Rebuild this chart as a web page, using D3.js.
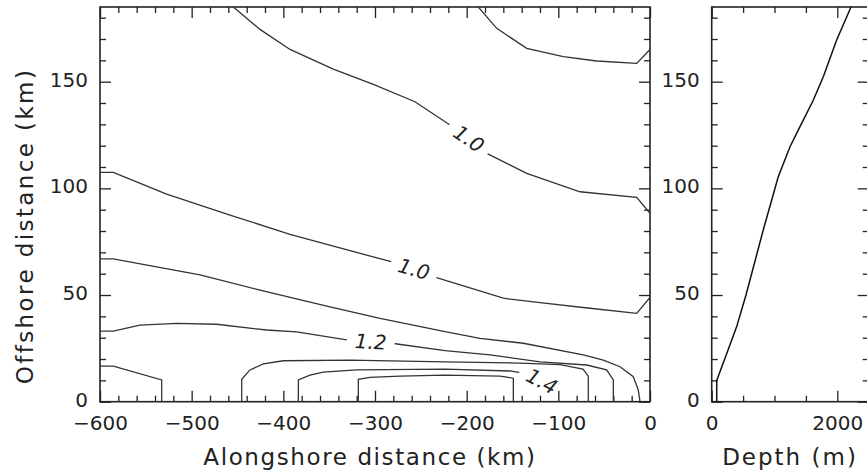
<!DOCTYPE html>
<html>
<head>
<meta charset="utf-8">
<script src="https://cdn.jsdelivr.net/npm/d3@7"></script>
<style>
  body { margin: 0; background: #fff; }
  text { font-family: "DejaVu Sans", sans-serif; fill: #222; }
</style>
</head>
<body>
<svg id="chart" width="867" height="472"></svg>
<script>
// tick labels
const alongTicks = [-600, -500, -400, -300, -200, -100, 0];
const offshoreTicks = [0, 50, 100, 150];
const depthTicks = [0, 2000];

// contour lines, [alongshore km, offshore km]
const contour10Upper = [[-454.6, 185], [-425.5, 174.5], [-392.7, 165.1], [-345.5, 155.9], [-301.8, 148.7],
  [-256.4, 140.6], [-218.2, 129.7], [-181.8, 117.2], [-134.5, 107.0], [-76.4, 98.4], [-14.5, 95.8], [0, 88.3]];
const contourTopRight = [[-187.3, 185], [-167.2, 175.0], [-134.5, 165.6], [-94.6, 161.7], [-58.1, 159.7],
  [-14.5, 158.6], [0, 165.1]];
const contour10Lower = [[-600, 107.5], [-585.5, 107.5], [-527.3, 97.3], [-458.2, 87.5], [-392.7, 78.4],
  [-309.1, 68.7], [-276.4, 64.9], [-236.4, 58.6], [-160, 48.5], [-120, 46.4], [-65.5, 43.8], [-14.5, 41.4], [0, 48.9]];
const contour11 = [[-600, 66.9], [-585.5, 66.9], [-490.9, 59.4], [-425.5, 52.3], [-349.1, 44.5], [-294.5, 39.1],
  [-223.6, 32.8], [-185.5, 29.7], [-138.2, 27.4], [-72.8, 21.9], [-50.9, 19.5], [-32.7, 16.4], [-18.2, 11.7],
  [-12.8, 5.5], [-10.9, 0]];
const contour12 = [[-600, 33.1], [-585.5, 33.1], [-556.4, 35.9], [-516.4, 36.7], [-472.7, 36.3], [-418.2, 33.6],
  [-385.5, 32.7], [-329.1, 28.9], [-281.8, 27.4], [-223.6, 23.9], [-174.5, 21.9], [-120, 18.7], [-69.1, 17.2],
  [-47.3, 14.9], [-40, 10.2], [-40, 0]];
const contour13 = [[-445.4, 0], [-445.4, 10.5], [-436.4, 14.9], [-421.9, 17.7], [-400, 19.2], [-327.3, 19.5],
  [-223.6, 18.7], [-141.8, 18.1], [-98.2, 17.4], [-73.1, 15.3], [-67.3, 12.0], [-67.3, 0]];
const contour14 = [[-383.6, 0], [-383.6, 10.2], [-370.9, 12.5], [-356.4, 13.9], [-320, 14.9], [-223.6, 15.3],
  [-152.7, 14.4], [-138.5, 13.4], [-115, 11.5], [-104, 8], [-101.5, 5.5], [-101.5, 0]];
const contour15 = [[-318.2, 0], [-318.2, 10.5], [-305.5, 11.4], [-272.7, 12.0], [-223.6, 12.5], [-163.6, 12.0],
  [-149.1, 11.0], [-149.1, 0]];
const contourLeftCorner = [[-600, 16.7], [-585.5, 16.7], [-532.7, 10.2], [-532.7, 0]];

// contour labels
const labelText = ["1.0", "1.0", "1.2", "1.4"];
const labelAlong = [-197.5, -257.5, -304.6, -118];
const labelOffshore = [123.3, 62.2, 28.1, 9.6];
const labelAngle = [34, 16, 3, 28];
const labelLine = [0, 2, 4, 6];

// bottom depth, [depth m, offshore km]
const depthProfile = [[80, 0], [80, 10], [212, 20.4], [398, 35.2], [546, 50], [822, 80.6], [1060, 105.4],
  [1247, 119.5], [1406, 128.9], [1617, 141.3], [1777, 152.3], [1990, 169.5], [2218, 185]];

const contours = [contour10Upper, contourTopRight, contour10Lower, contour11, contour12,
  contour13, contour14, contour15, contourLeftCorner];

const svg = d3.select("#chart");
const x = d3.scaleLinear().domain([-600, 0]).range([100, 650]);
const y = d3.scaleLinear().domain([0, 185]).range([401.7, 7]);
const xd = d3.scaleLinear().domain([0, 2500]).range([711.7, 868.7]);

const defs = svg.append("defs");
defs.append("clipPath").attr("id", "clip-left")
  .append("rect").attr("x", 100).attr("y", 7).attr("width", 550).attr("height", 394.7);

// axis frame with inward ticks
function drawFrame(xs, xMajor, xMinor) {
  const [x0, x1] = xs.range();
  const [y0, y1] = y.range();
  const yMinor = d3.range(0, 186, 10).filter((v) => v % 50 !== 0);
  const g = svg.append("g").attr("color", "#222");

  const axes = [
    [d3.axisBottom(xs), `translate(0,${y0})`, xMajor, xMinor, true, 14],
    [d3.axisTop(xs), `translate(0,${y1})`, xMajor, xMinor, false, 12],
    [d3.axisLeft(y), `translate(${x0},0)`, offshoreTicks, yMinor, true, 12],
    [d3.axisRight(y), `translate(${x1},0)`, offshoreTicks, yMinor, false, 12]
  ];
  axes.forEach(([axis, tr, major, minor, labels, pad]) => {
    g.append("g").attr("transform", tr)
      .call(axis.tickValues(major).tickSize(-11).tickSizeOuter(0).tickPadding(pad)
        .tickFormat(labels ? d3.format("d") : ""))
      .call((s) => s.select(".domain").remove());
    g.append("g").attr("transform", tr)
      .call(axis.tickValues(minor).tickSize(-6).tickSizeOuter(0).tickFormat(""))
      .call((s) => s.select(".domain").remove());
  });
  g.selectAll(".tick line").attr("stroke-width", 1.3);
  g.selectAll(".tick text").attr("font-size", 20).attr("font-family", null);
  // y labels sit a little high so the 0 clears the x labels
  g.selectAll("g:nth-child(5) .tick text").attr("dy", "0.22em");

  g.append("rect")
    .attr("x", x0).attr("y", y1)
    .attr("width", x1 - x0).attr("height", y0 - y1)
    .attr("fill", "none").attr("stroke", "#222").attr("stroke-width", 1.6);
}

drawFrame(x, alongTicks, d3.range(-580, 0, 20).filter((v) => v % 100 !== 0));
drawFrame(xd, depthTicks, [500, 1000, 1500, 2500]);

// masks that open a gap in the line under each label
labelText.forEach((t, i) => {
  const m = defs.append("mask").attr("id", "gap-" + i)
    .attr("maskUnits", "userSpaceOnUse")
    .attr("x", 0).attr("y", 0).attr("width", 867).attr("height", 472);
  m.append("rect").attr("width", 867).attr("height", 472).attr("fill", "#fff");
  m.append("rect")
    .attr("x", -24).attr("y", -12).attr("width", 48).attr("height", 24)
    .attr("fill", "#000")
    .attr("transform", `translate(${x(labelAlong[i])},${y(labelOffshore[i])}) rotate(${labelAngle[i]})`);
});

const line = d3.line().x((d) => x(d[0])).y((d) => y(d[1]));

const cg = svg.append("g").attr("clip-path", "url(#clip-left)");
cg.selectAll(".contour")
  .data(contours)
  .join("path")
  .attr("class", "contour")
  .attr("d", line)
  .attr("fill", "none")
  .attr("stroke", "#333")
  .attr("stroke-width", 1.3)
  .attr("mask", (d, i) => {
    const k = labelLine.indexOf(i);
    return k >= 0 ? `url(#gap-${k})` : null;
  });

svg.append("g").selectAll("text")
  .data(labelText)
  .join("text")
  .attr("transform", (d, i) => `translate(${x(labelAlong[i])},${y(labelOffshore[i])}) rotate(${labelAngle[i]})`)
  .attr("text-anchor", "middle")
  .attr("dy", "0.36em")
  .attr("font-size", 20)
  .attr("font-style", "italic")
  .attr("font-weight", 200)
  .text((d) => d);

// depth profile
svg.append("path")
  .datum(depthProfile)
  .attr("d", d3.line().x((d) => xd(d[0])).y((d) => y(d[1])))
  .attr("fill", "none")
  .attr("stroke", "#111")
  .attr("stroke-width", 1.5);

// axis titles
svg.append("text")
  .attr("x", 370).attr("y", 465)
  .attr("text-anchor", "middle")
  .attr("font-size", 23)
  .attr("letter-spacing", 1.6)
  .text("Alongshore distance (km)");

svg.append("text")
  .attr("transform", "translate(33,226) rotate(-90)")
  .attr("text-anchor", "middle")
  .attr("font-size", 23)
  .attr("letter-spacing", 2.4)
  .text("Offshore distance (km)");

svg.append("text")
  .attr("x", 790).attr("y", 465)
  .attr("text-anchor", "middle")
  .attr("font-size", 23)
  .attr("letter-spacing", 2)
  .text("Depth (m)");
</script>
</body>
</html>
